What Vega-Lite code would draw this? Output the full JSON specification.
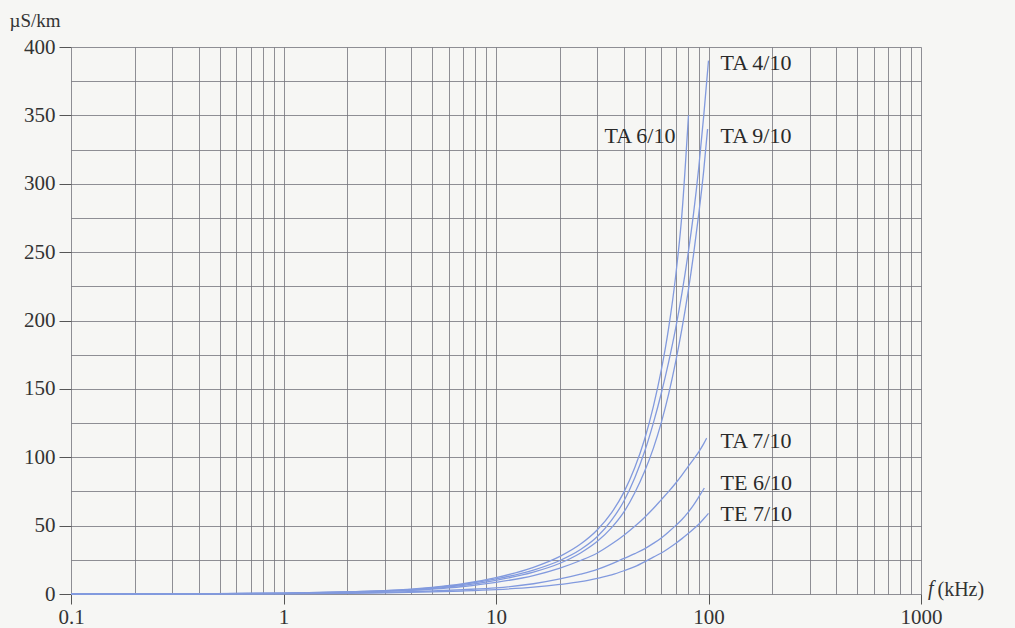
{
  "$schema": "https://vega.github.io/schema/vega-lite/v6.json",
  "autosize": "none",
  "width": 850,
  "height": 547,
  "padding": {"left": 71, "top": 47, "right": 94, "bottom": 34},
  "background": "#f6f6f4",
  "config": {"view": {"stroke": null}},
  "datasets": {
    "curves": [
      {"series":"TA 4/10","f":0.1,"G":0},{"series":"TA 4/10","f":0.3,"G":0.1},{"series":"TA 4/10","f":1,"G":0.6},{"series":"TA 4/10","f":2,"G":1.5},{"series":"TA 4/10","f":3,"G":2.4},{"series":"TA 4/10","f":5,"G":4.5},{"series":"TA 4/10","f":7,"G":7},{"series":"TA 4/10","f":10,"G":11},{"series":"TA 4/10","f":15,"G":17.5},{"series":"TA 4/10","f":20,"G":24.5},{"series":"TA 4/10","f":25,"G":32.5},{"series":"TA 4/10","f":30,"G":42},{"series":"TA 4/10","f":35,"G":54},{"series":"TA 4/10","f":40,"G":68},{"series":"TA 4/10","f":45,"G":85},{"series":"TA 4/10","f":50,"G":104},{"series":"TA 4/10","f":55,"G":125},{"series":"TA 4/10","f":60,"G":147},{"series":"TA 4/10","f":65,"G":170},{"series":"TA 4/10","f":70,"G":194},{"series":"TA 4/10","f":75,"G":220},{"series":"TA 4/10","f":80,"G":248},{"series":"TA 4/10","f":85,"G":278},{"series":"TA 4/10","f":90,"G":312},{"series":"TA 4/10","f":95,"G":350},{"series":"TA 4/10","f":100,"G":390},
      {"series":"TA 6/10","f":0.1,"G":0},{"series":"TA 6/10","f":0.3,"G":0.1},{"series":"TA 6/10","f":1,"G":0.6},{"series":"TA 6/10","f":2,"G":1.6},{"series":"TA 6/10","f":3,"G":2.5},{"series":"TA 6/10","f":5,"G":4.8},{"series":"TA 6/10","f":7,"G":7.5},{"series":"TA 6/10","f":10,"G":12},{"series":"TA 6/10","f":15,"G":19.5},{"series":"TA 6/10","f":20,"G":27.5},{"series":"TA 6/10","f":25,"G":36.5},{"series":"TA 6/10","f":30,"G":47},{"series":"TA 6/10","f":35,"G":59.5},{"series":"TA 6/10","f":40,"G":74.5},{"series":"TA 6/10","f":45,"G":92.5},{"series":"TA 6/10","f":50,"G":113},{"series":"TA 6/10","f":55,"G":137},{"series":"TA 6/10","f":60,"G":164},{"series":"TA 6/10","f":65,"G":195},{"series":"TA 6/10","f":70,"G":232},{"series":"TA 6/10","f":75,"G":278},{"series":"TA 6/10","f":80.5,"G":350},
      {"series":"TA 9/10","f":0.1,"G":0},{"series":"TA 9/10","f":0.3,"G":0.1},{"series":"TA 9/10","f":1,"G":0.5},{"series":"TA 9/10","f":2,"G":1.4},{"series":"TA 9/10","f":3,"G":2.1},{"series":"TA 9/10","f":5,"G":4},{"series":"TA 9/10","f":7,"G":6.3},{"series":"TA 9/10","f":10,"G":10},{"series":"TA 9/10","f":15,"G":16},{"series":"TA 9/10","f":20,"G":22.5},{"series":"TA 9/10","f":25,"G":30},{"series":"TA 9/10","f":30,"G":38.5},{"series":"TA 9/10","f":35,"G":48.5},{"series":"TA 9/10","f":40,"G":60},{"series":"TA 9/10","f":45,"G":74},{"series":"TA 9/10","f":50,"G":89.5},{"series":"TA 9/10","f":55,"G":106.5},{"series":"TA 9/10","f":60,"G":125.5},{"series":"TA 9/10","f":65,"G":146.5},{"series":"TA 9/10","f":70,"G":169.5},{"series":"TA 9/10","f":75,"G":194},{"series":"TA 9/10","f":80,"G":220},{"series":"TA 9/10","f":85,"G":248},{"series":"TA 9/10","f":90,"G":278},{"series":"TA 9/10","f":95,"G":310},{"series":"TA 9/10","f":99,"G":340},
      {"series":"TA 7/10","f":0.1,"G":0},{"series":"TA 7/10","f":0.3,"G":0.1},{"series":"TA 7/10","f":1,"G":0.5},{"series":"TA 7/10","f":2,"G":1.2},{"series":"TA 7/10","f":3,"G":1.9},{"series":"TA 7/10","f":5,"G":3.6},{"series":"TA 7/10","f":7,"G":5.5},{"series":"TA 7/10","f":10,"G":8.5},{"series":"TA 7/10","f":15,"G":13.5},{"series":"TA 7/10","f":20,"G":19},{"series":"TA 7/10","f":25,"G":24.5},{"series":"TA 7/10","f":30,"G":30},{"series":"TA 7/10","f":35,"G":36.5},{"series":"TA 7/10","f":40,"G":43},{"series":"TA 7/10","f":45,"G":49.5},{"series":"TA 7/10","f":50,"G":56},{"series":"TA 7/10","f":55,"G":62.5},{"series":"TA 7/10","f":60,"G":69},{"series":"TA 7/10","f":65,"G":75},{"series":"TA 7/10","f":70,"G":81},{"series":"TA 7/10","f":75,"G":87},{"series":"TA 7/10","f":80,"G":93},{"series":"TA 7/10","f":85,"G":98.5},{"series":"TA 7/10","f":90,"G":104},{"series":"TA 7/10","f":95,"G":110},{"series":"TA 7/10","f":98,"G":114},
      {"series":"TE 6/10","f":0.1,"G":0},{"series":"TE 6/10","f":0.3,"G":0.1},{"series":"TE 6/10","f":1,"G":0.3},{"series":"TE 6/10","f":2,"G":0.8},{"series":"TE 6/10","f":3,"G":1.2},{"series":"TE 6/10","f":5,"G":2.2},{"series":"TE 6/10","f":7,"G":3.2},{"series":"TE 6/10","f":10,"G":4.5},{"series":"TE 6/10","f":15,"G":7.5},{"series":"TE 6/10","f":20,"G":11},{"series":"TE 6/10","f":25,"G":14.5},{"series":"TE 6/10","f":30,"G":18},{"series":"TE 6/10","f":35,"G":22},{"series":"TE 6/10","f":40,"G":26},{"series":"TE 6/10","f":45,"G":29.5},{"series":"TE 6/10","f":50,"G":33},{"series":"TE 6/10","f":55,"G":37},{"series":"TE 6/10","f":60,"G":41},{"series":"TE 6/10","f":65,"G":45.5},{"series":"TE 6/10","f":70,"G":50},{"series":"TE 6/10","f":75,"G":54.5},{"series":"TE 6/10","f":80,"G":59.5},{"series":"TE 6/10","f":85,"G":65},{"series":"TE 6/10","f":90,"G":71},{"series":"TE 6/10","f":95.6,"G":77.5},
      {"series":"TE 7/10","f":0.1,"G":0},{"series":"TE 7/10","f":0.3,"G":0.05},{"series":"TE 7/10","f":1,"G":0.2},{"series":"TE 7/10","f":2,"G":0.5},{"series":"TE 7/10","f":3,"G":0.8},{"series":"TE 7/10","f":5,"G":1.5},{"series":"TE 7/10","f":7,"G":2.2},{"series":"TE 7/10","f":10,"G":3.2},{"series":"TE 7/10","f":15,"G":5},{"series":"TE 7/10","f":20,"G":7},{"series":"TE 7/10","f":25,"G":9},{"series":"TE 7/10","f":30,"G":11.5},{"series":"TE 7/10","f":35,"G":14},{"series":"TE 7/10","f":40,"G":17},{"series":"TE 7/10","f":45,"G":20},{"series":"TE 7/10","f":50,"G":23.5},{"series":"TE 7/10","f":55,"G":27},{"series":"TE 7/10","f":60,"G":30},{"series":"TE 7/10","f":65,"G":33.5},{"series":"TE 7/10","f":70,"G":37},{"series":"TE 7/10","f":75,"G":40.5},{"series":"TE 7/10","f":80,"G":44},{"series":"TE 7/10","f":85,"G":47.5},{"series":"TE 7/10","f":90,"G":51},{"series":"TE 7/10","f":95,"G":55},{"series":"TE 7/10","f":100,"G":59}
    ],
    "labels": [
      {"label":"TA 4/10","f":100,"G":388,"side":"right"},
      {"label":"TA 9/10","f":100,"G":335,"side":"right"},
      {"label":"TA 6/10","f":80.5,"G":335,"side":"left"},
      {"label":"TA 7/10","f":100,"G":112,"side":"right"},
      {"label":"TE 6/10","f":100,"G":81,"side":"right"},
      {"label":"TE 7/10","f":100,"G":58.5,"side":"right"}
    ],
    "unit": [{"f":1000,"G":0,"t":"f"}]
  },
  "encoding": {
    "x": {
      "field": "f", "type": "quantitative",
      "scale": {"type": "log", "domain": [0.1, 1000]},
      "axis": {
        "values": [0.1,0.2,0.3,0.4,0.5,0.6,0.7,0.8,0.9,1,2,3,4,5,6,7,8,9,10,20,30,40,50,60,70,80,90,100,200,300,400,500,600,700,800,900,1000],
        "format": "~g",
        "labelExpr": "(datum.value==0.1||datum.value==1||datum.value==10||datum.value==100||datum.value==1000) ? datum.label : ''",
        "labelOverlap": false, "labelFlush": false,
        "grid": true, "gridColor": "#74747c", "gridOpacity": 0.8, "gridWidth": 1,
        "domain": false,
        "tickSize": 10, "tickColor": "#555555",
        "tickOpacity": {"condition": {"test": "datum.value==0.1||datum.value==1||datum.value==10||datum.value==100||datum.value==1000", "value": 1}, "value": 0},
        "labelFont": "Liberation Serif", "labelFontSize": 21, "labelColor": "#333333", "labelPadding": 2,
        "title": "(kHz)", "titleFont": "Liberation Serif", "titleFontSize": 20, "titleFontWeight": "normal", "titleColor": "#333333",
        "titleX": 866, "titleY": -5, "titleAlign": "left", "titleBaseline": "middle", "titleAngle": 0
      }
    },
    "y": {
      "field": "G", "type": "quantitative",
      "scale": {"domain": [0, 400]},
      "axis": {
        "values": [0,25,50,75,100,125,150,175,200,225,250,275,300,325,350,375,400],
        "labelExpr": "datum.value % 50 == 0 ? datum.label : ''",
        "labelOverlap": false, "labelFlush": false,
        "grid": true, "gridColor": "#74747c", "gridOpacity": 0.8, "gridWidth": 1,
        "domain": false,
        "tickSize": 12, "tickColor": "#555555",
        "tickOpacity": {"condition": {"test": "datum.value % 50 == 0", "value": 1}, "value": 0},
        "labelFont": "Liberation Serif", "labelFontSize": 21, "labelColor": "#333333", "labelPadding": 4,
        "title": "µS/km", "titleFont": "Liberation Serif", "titleFontSize": 19, "titleFontWeight": "normal", "titleColor": "#333333",
        "titleAngle": 0, "titleX": -62, "titleY": -27, "titleAlign": "left", "titleBaseline": "middle"
      }
    }
  },
  "layer": [
    {
      "data": {"name": "curves"},
      "mark": {"type": "line", "interpolate": "monotone", "color": "#829ade", "strokeWidth": 1.3},
      "encoding": {"detail": {"field": "series"}}
    },
    {
      "data": {"name": "labels"},
      "transform": [{"filter": "datum.side == 'right'"}],
      "mark": {"type": "text", "align": "left", "baseline": "middle", "dx": 12, "font": "Liberation Serif", "fontSize": 22, "color": "#2a2a2a"},
      "encoding": {"text": {"field": "label"}}
    },
    {
      "data": {"name": "labels"},
      "transform": [{"filter": "datum.side == 'left'"}],
      "mark": {"type": "text", "align": "right", "baseline": "middle", "dx": -13, "font": "Liberation Serif", "fontSize": 22, "color": "#2a2a2a"},
      "encoding": {"text": {"field": "label"}}
    },
    {
      "data": {"name": "unit"},
      "mark": {"type": "text", "align": "left", "baseline": "middle", "dx": 7, "dy": -5, "font": "Liberation Serif", "fontSize": 20, "fontStyle": "italic", "color": "#333333"},
      "encoding": {"text": {"field": "t"}}
    }
  ]
}
